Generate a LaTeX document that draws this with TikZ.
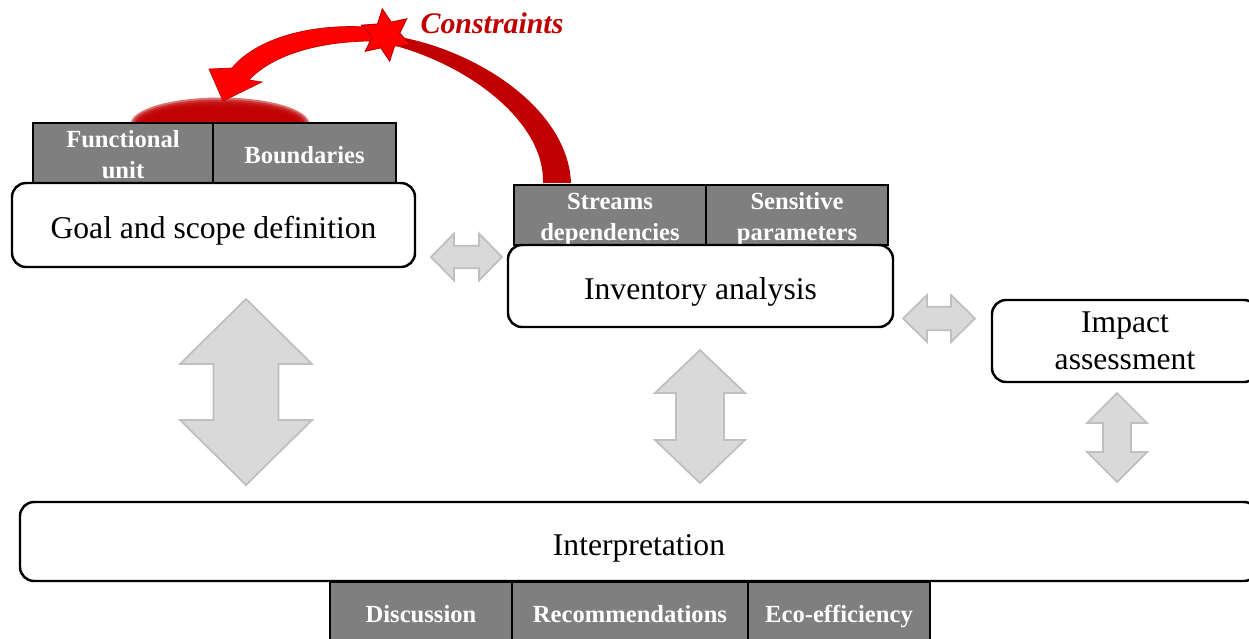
\documentclass[tikz,border=0pt]{standalone}
\usepackage{fontspec}
\setmainfont{Liberation Serif}
\usetikzlibrary{shapes.geometric}

\definecolor{tabgray}{HTML}{7F7F7F}
\definecolor{arrowgray}{HTML}{D9D9D9}
\definecolor{arrowedge}{HTML}{BFBFBF}
\definecolor{darkred}{HTML}{C00000}

\tikzset{
  stage/.style={draw, line width=1.4pt, rounded corners=8pt, fill=white, align=center,
    font=\fontsize{18}{21}\selectfont, inner sep=0pt},
  oneline/.style={text height=15.5pt, text depth=0pt},
  tab/.style={draw, line width=0.9pt, fill=tabgray, text=white, align=center,
    font=\bfseries\fontsize{14}{17.5}\selectfont, inner sep=0pt, minimum height=12mm},
  onetab/.style={tab, text height=14pt, text depth=2pt},
  twotab/.style={tab, text height=31pt, text depth=2pt},
  twoway/.style={fill=arrowgray, draw=arrowedge, line width=1pt, line join=miter},
  redband/.style={fill=red, draw=darkred, line width=0.4pt},
}

% vertical two-way block arrow: x, top, bottom, head half width, shaft half width, head length
\newcommand{\vtwoway}[6]{%
  \draw[twoway] (#1,#2) -- ({#1+#4},{#2+#6}) -- ({#1+#5},{#2+#6}) -- ({#1+#5},{#3-#6})
    -- ({#1+#4},{#3-#6}) -- (#1,#3) -- ({#1-#4},{#3-#6}) -- ({#1-#5},{#3-#6})
    -- ({#1-#5},{#2+#6}) -- ({#1-#4},{#2+#6}) -- cycle;}
% horizontal two-way block arrow: y, left, right, head half width, shaft half width, head length
\newcommand{\htwoway}[6]{%
  \draw[twoway] (#2,#1) -- ({#2+#6},{#1-#4}) -- ({#2+#6},{#1-#5}) -- ({#3-#6},{#1-#5})
    -- ({#3-#6},{#1-#4}) -- (#3,#1) -- ({#3-#6},{#1+#4}) -- ({#3-#6},{#1+#5})
    -- ({#2+#6},{#1+#5}) -- ({#2+#6},{#1+#4}) -- cycle;}

\begin{document}
\begin{tikzpicture}[x=0.2mm, y=-0.2mm]
  \useasboundingbox (0,0) rectangle (1249,638);
  \clip (0,0) rectangle (1249,638);

  % red glow over the goal tabs
  \coordinate (glow) at (220,124);
  \foreach \k in {0,...,5}
    \fill[darkred, fill opacity=0.55] (glow) ellipse [x radius={15.6mm+\k*0.45mm}, y radius={3.3mm+\k*0.4mm}];

  % constraint arrow
  \fill[darkred] (400,37) .. controls (480,52) and (568,110) .. (571,183)
    -- (543,183) .. controls (545,125) and (475,68) .. (396,46) -- cycle;
  \draw[redband] (380,28) .. controls (310,21) and (255,40) .. (232,68)
    -- (209,69) -- (223,101) -- (262,82) -- (249,80)
    .. controls (272,55) and (320,40) .. (380,41) -- cycle;
  \node[star, star points=6, star point ratio=1.9, minimum size=10.5mm, inner sep=0pt,
    fill=red, draw=darkred, line width=0.6pt, rotate=8] (star) at (386,35) {};
  \node[text=darkred, font=\bfseries\itshape\fontsize{17}{20}\selectfont] (constraints) at (492,23) {Constraints};

  % goal and scope
  \node[twotab, minimum width=36mm] (funit) at (123,153) {Functional\\unit};
  \node[onetab, minimum width=36.6mm] (bounds) at (304.5,153) {Boundaries};
  \node[stage, oneline, minimum width=80.6mm, minimum height=16.8mm] (goal) at (213.5,225) {Goal and scope definition};

  % inventory
  \node[twotab, minimum width=38.4mm] (streams) at (610,215) {Streams\\dependencies};
  \node[twotab, minimum width=36.4mm] (sensitive) at (797,215) {Sensitive\\parameters};
  \node[stage, oneline, minimum width=77mm, minimum height=16.4mm] (inventory) at (700.5,286) {Inventory analysis};

  % impact
  \node[stage, minimum width=53.2mm, minimum height=16.4mm] (impact) at (1125,341) {Impact\\assessment};

  % interpretation
  \node[onetab, minimum width=36.4mm] (discussion) at (421,612) {Discussion};
  \node[onetab, minimum width=47.2mm] (recommend) at (630,612) {Recommendations};
  \node[onetab, minimum width=36.4mm] (ecoeff) at (839,612) {Eco-efficiency};
  \node[stage, oneline, minimum width=247.6mm, minimum height=15.8mm] (interp) at (639,541.5) {Interpretation};

  % two-way arrows
  \htwoway{257}{431}{502}{23.5}{11.3}{23}
  \htwoway{318.5}{903}{975}{23.5}{11.7}{24}
  \vtwoway{246}{299}{485}{66}{32.5}{65}
  \vtwoway{700}{350}{483}{45}{24}{43}
  \vtwoway{1117}{393}{482}{30}{14}{30}
\end{tikzpicture}
\end{document}
